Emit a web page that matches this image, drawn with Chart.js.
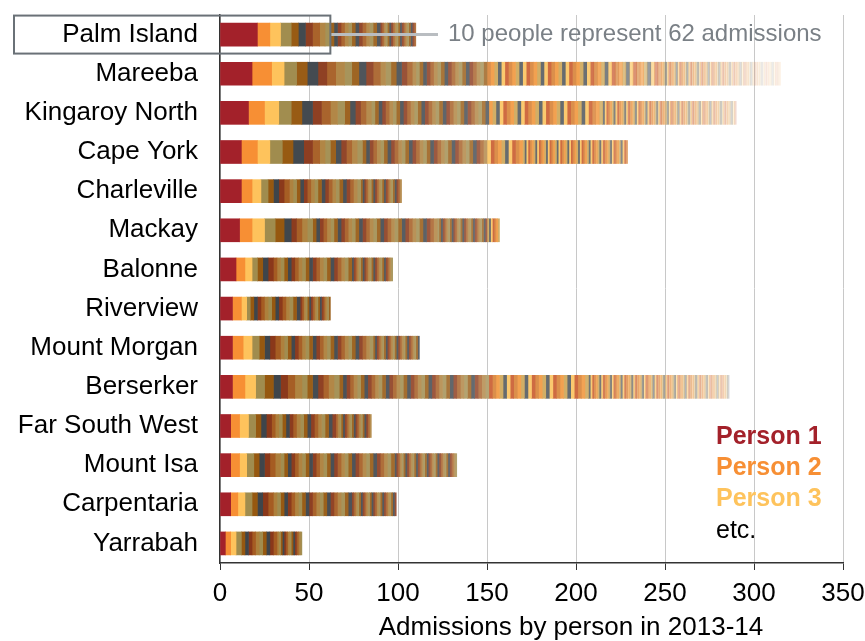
<!DOCTYPE html>
<html>
<head>
<meta charset="utf-8">
<script src="https://cdn.jsdelivr.net/npm/chart.js@4.4.1/dist/chart.umd.min.js"></script>
<style>
  body { margin: 0; background: #fff; }
</style>
</head>
<body>
<canvas id="admissionsChart" width="865" height="641"></canvas>
<script>
// regions, top to bottom
const regions = [
  "Palm Island", "Mareeba", "Kingaroy North", "Cape York", "Charleville",
  "Mackay", "Balonne", "Riverview", "Mount Morgan", "Berserker",
  "Far South West", "Mount Isa", "Carpentaria", "Yarrabah"
];

// admissions of the heaviest users in each region (person 1, person 2, ...)
const topAdmissions = [
  [21, 7, 6, 6, 4, 4, 4, 4, 3, 3],
  [18, 11, 7, 7, 6, 6, 5, 5, 5, 4, 4, 4, 4, 4, 3, 3, 3, 3, 3, 3],
  [16, 9, 8, 7, 6, 6, 5, 5, 4, 4, 3, 3, 3, 3, 3],
  [12, 9, 7, 7, 6, 6, 5, 4, 3, 3, 3, 3, 3, 3, 3, 3],
  [12, 6, 5, 4, 3, 3, 3, 3],
  [11, 7, 7, 6, 5, 4, 3, 3, 3, 3],
  [9, 5, 4, 3, 3, 3, 3],
  [7, 5, 3, 2, 2, 2],
  [7, 6, 5, 4, 3, 3, 3, 3],
  [7, 7, 6, 5, 5, 4, 4, 4, 4, 3, 3, 3, 3, 3, 3, 3],
  [6, 5, 5, 4, 3, 3, 3, 2],
  [6, 5, 4, 4, 3, 3, 3, 3, 3],
  [6, 4, 4, 4, 3, 3, 3, 3],
  [3, 3, 3, 3, 2, 2, 2, 2]
];
// the long tail: how many people had 2 admissions, and how many had 1
const twoAdmissionPeople = [14, 70, 65, 45, 20, 35, 22, 12, 26, 70, 17, 32, 22, 6];
const oneAdmissionPeople = [20, 67, 75, 59, 23, 35, 23, 17, 26, 79, 20, 35, 25, 14];

const highlightRegion = "Palm Island";
const highlightPeople = 10;
const highlightAdmissions = 62;

const legendLabels = ["Person 1", "Person 2", "Person 3", "etc."];
const xTitle = "Admissions by person in 2013-14";

const leadColours = [[163, 33, 42], [247, 143, 52], [254, 195, 92]];
const darkColours = [[160, 140, 78], [150, 88, 16], [62, 69, 75], [138, 56, 26], [165, 92, 34], [173, 128, 60]];
const brightColours = [[240, 150, 60], [205, 165, 85], [85, 90, 95], [250, 195, 95], [200, 90, 45], [215, 130, 55]];

// every person's admissions, per region
const perPerson = regions.map((r, c) =>
  topAdmissions[c]
    .concat(Array(twoAdmissionPeople[c]).fill(2))
    .concat(Array(oneAdmissionPeople[c]).fill(1))
);
const starts = perPerson.map((list) => {
  let s = 0;
  return list.map((v) => { const st = s; s += v; return st; });
});
const maxPeople = Math.max(...perPerson.map((l) => l.length));

function personColour(i, start) {
  let base;
  if (i < 3) base = leadColours[i];
  else if (start < 150) base = darkColours[(i - 3) % darkColours.length];
  else base = brightColours[i % brightColours.length];
  // the dark stripes wash out a little further along the bar
  let w = i < 3 ? 0 : Math.min(0.22, Math.max(0, (start - 30) / 120 * 0.22));
  if (start >= 150) w = 0.1;
  const rgb = base.map((v) => Math.round(v + (255 - v) * w));
  let a = 1 - (start - 200) / 120;
  a = Math.min(1, Math.max(0.12, a));
  return `rgba(${rgb[0]}, ${rgb[1]}, ${rgb[2]}, ${a})`;
}

const datasets = [];
for (let i = 0; i < maxPeople; i++) {
  datasets.push({
    label: "Person " + (i + 1),
    data: regions.map((r, c) => (perPerson[c][i] !== undefined ? perPerson[c][i] : null)),
    backgroundColor: (ctx) => {
      const c = ctx.dataIndex;
      const st = starts[c] ? starts[c][i] : 0;
      return personColour(i, st || 0);
    },
    borderWidth: 0,
    barThickness: 23,
  });
}

const FONT = "'Liberation Sans', Arial, sans-serif";

const annotations = {
  id: "annotations",
  afterDraw(chart) {
    const ctx = chart.ctx;
    const x = chart.scales.x;
    const y = chart.scales.y;
    const yc = y.getPixelForValue(regions.indexOf(highlightRegion));
    const boxRight = x.getPixelForValue(highlightAdmissions);
    ctx.save();

    // box round the label and the first people
    ctx.strokeStyle = "#6a7177";
    ctx.lineWidth = 2;
    ctx.strokeRect(14, yc - 19, boxRight - 14, 38);

    // leader line
    ctx.strokeStyle = "#b9bdc1";
    ctx.lineWidth = 3;
    ctx.beginPath();
    ctx.moveTo(boxRight + 1, yc);
    ctx.lineTo(438, yc);
    ctx.stroke();

    ctx.fillStyle = "#7a8086";
    ctx.font = `24px ${FONT}`;
    ctx.textBaseline = "middle";
    ctx.textAlign = "left";
    ctx.fillText(`${highlightPeople} people represent ${highlightAdmissions} admissions`, 448, yc);

    // legend
    const legendColours = ["#a3212a", "#f78f34", "#fec35c", "#000000"];
    legendLabels.forEach((t, k) => {
      ctx.fillStyle = legendColours[k];
      ctx.font = (k < 3 ? "bold " : "") + `25px ${FONT}`;
      ctx.fillText(t, 716, 437 + k * 31.3);
    });

    // axis title
    ctx.fillStyle = "#000";
    ctx.font = `26px ${FONT}`;
    ctx.textAlign = "center";
    ctx.fillText(xTitle, 571, 628);
    ctx.restore();
  },
};

new Chart(document.getElementById("admissionsChart"), {
  type: "bar",
  data: { labels: regions, datasets: datasets },
  options: {
    indexAxis: "y",
    responsive: false,
    animation: false,
    layout: { padding: { top: 15, right: 22, bottom: 0, left: 0 } },
    plugins: {
      legend: { display: false },
      tooltip: { enabled: false },
    },
    scales: {
      x: {
        stacked: true,
        min: 0,
        max: 350,
        ticks: { stepSize: 50, color: "#000", font: { family: FONT, size: 26 }, padding: 8, maxRotation: 0 },
        grid: { color: "#c8c8c8", tickColor: "#333", tickLength: 7 },
        border: { display: true, color: "#333", width: 1.5 },
        afterFit(scale) {
          scale.height = 78;
          scale.paddingLeft = 0;
          scale.paddingRight = 0;
        },
      },
      y: {
        stacked: true,
        ticks: { color: "#000", font: { family: FONT, size: 26 }, padding: 22, autoSkip: false },
        grid: { display: false, drawTicks: false },
        border: { display: true, color: "#333", width: 1.5 },
        afterFit(scale) {
          scale.width = 220;
          scale.paddingTop = 0;
          scale.paddingBottom = 0;
        },
      },
    },
  },
  plugins: [annotations],
});
</script>
</body>
</html>
